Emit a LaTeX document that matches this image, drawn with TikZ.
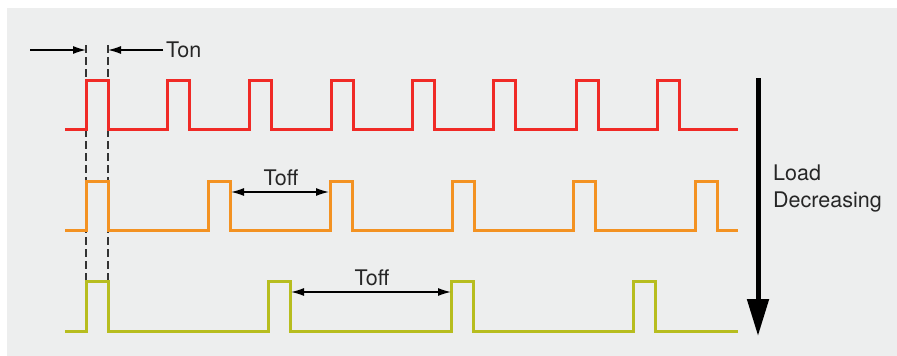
\documentclass[tikz,border=0pt]{standalone}
\usepackage{fontspec}
\setmainfont{TeX Gyre Heros}
\usetikzlibrary{arrows.meta}
\definecolor{bggray}{HTML}{EDEEEE}
\definecolor{wred}{HTML}{F02A26}
\definecolor{worange}{HTML}{F39222}
\definecolor{wgreen}{HTML}{B7BD1F}
\definecolor{dashgray}{HTML}{333333}
\tikzset{
  wave/.style={line width=3pt, line join=miter},
  guide/.style={dashgray, line width=1.6pt, dash pattern=on 8pt off 4pt},
  dimarrow/.style={line width=1.3pt, -{Latex[length=13pt,width=8pt]}},
  dimboth/.style={line width=1.3pt, {Latex[length=13pt,width=8pt]}-{Latex[length=13pt,width=8pt]}},
  lbl/.style={font=\fontsize{21.5}{27}\selectfont, inner sep=0pt, text=black!85},
  bigarrow/.style={line width=5pt, -{Triangle[length=37pt,width=21pt]}}
}
\begin{document}
\begin{tikzpicture}[x=1pt,y=-1pt]
\useasboundingbox (0,0) rectangle (897,356);
\fill[white] (0,0) rectangle (897,356);
\fill[bggray] (7,8) rectangle (897,356);
% guides
\coordinate (g1t) at (86,45); \coordinate (g1b) at (86,281);
\coordinate (g2t) at (108,45); \coordinate (g2b) at (108,281);
\draw[guide] (g1t) -- (g1b);
\draw[guide] (g2t) -- (g2b);
% red waveform
\draw[wave, wred] (65,129)
  \foreach \x in {86,167,249,331,412,493,576,657} { -- (\x,129) -- (\x,80) -- (\x+22,80) -- (\x+22,129) }
  -- (738,129);
% orange waveform
\draw[wave, worange] (65,230)
  \foreach \x in {86,208,330,452,573,695} { -- (\x,230) -- (\x,181) -- (\x+22,181) -- (\x+22,230) }
  -- (738,230);
% green waveform
\draw[wave, wgreen] (65,331)
  \foreach \x in {86,268,451,633} { -- (\x,331) -- (\x,281) -- (\x+22,281) -- (\x+22,331) }
  -- (738,331);
% Ton
\coordinate (tonL0) at (30,50); \coordinate (tonL1) at (86,50);
\coordinate (tonR0) at (163,50); \coordinate (tonR1) at (108,50);
\draw[dimarrow] (tonL0) -- (tonL1);
\draw[dimarrow] (tonR0) -- (tonR1);
\node[lbl, anchor=base west] (ton) at (166,57) {Ton};
% Toff 1
\coordinate (toffa0) at (231,192); \coordinate (toffa1) at (329,192);
\draw[dimboth] (toffa0) -- (toffa1);
\node[lbl, anchor=base] (toffa) at (281,185) {Toff};
% Toff 2
\coordinate (toffb0) at (291,292); \coordinate (toffb1) at (451,292);
\draw[dimboth] (toffb0) -- (toffb1);
\node[lbl, anchor=base] (toffb) at (372,285) {Toff};
% Load decreasing arrow
\coordinate (la0) at (758,78); \coordinate (la1) at (758,336);
\draw[bigarrow] (la0) -- (la1);
\node[lbl, anchor=base west] (load) at (773,180) {Load};
\node[lbl, anchor=base west] (decr) at (773,207) {Decreasing};
\end{tikzpicture}
\end{document}
